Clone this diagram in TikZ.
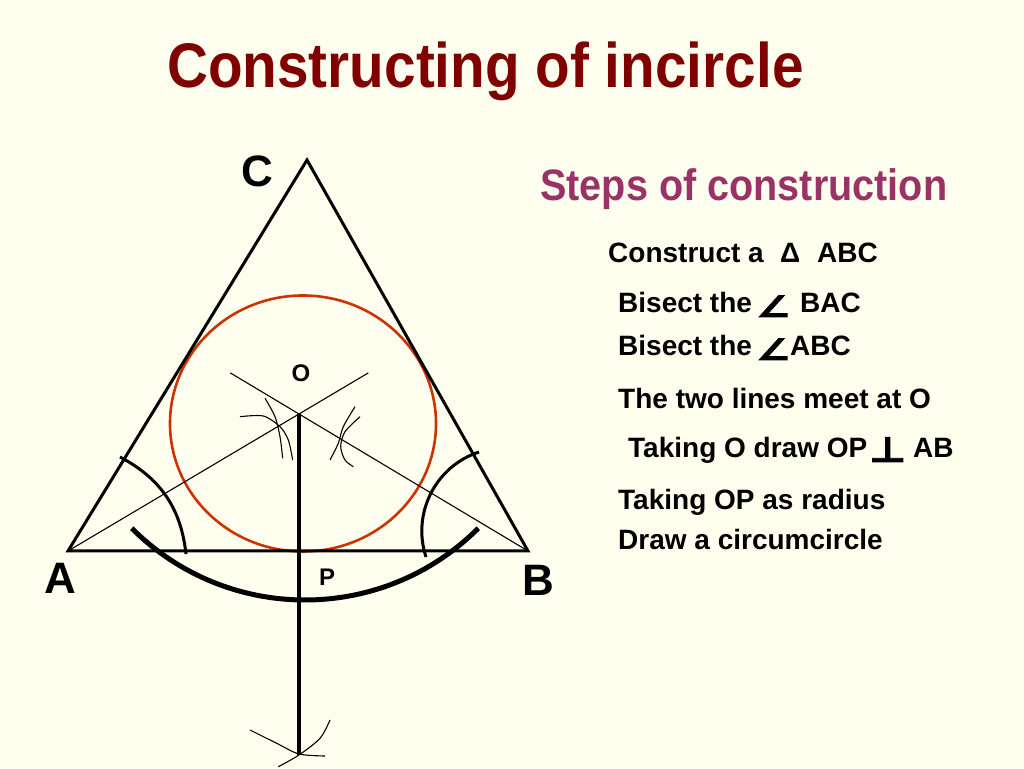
\documentclass[tikz,border=0pt]{standalone}
\usepackage{fontspec}
\setmainfont{Liberation Sans}
\newfontfamily\symfont[FakeBold=2.5]{DejaVu Sans}
\usetikzlibrary{calc}
\definecolor{bg}{RGB}{255,255,240}
\definecolor{titlered}{RGB}{128,0,0}
\definecolor{stepspurple}{RGB}{153,51,102}
\definecolor{circred}{RGB}{204,51,0}
\begin{document}
\begin{tikzpicture}[x=1pt,y=1pt,
  tri/.style={line width=3pt, line join=miter},
  thinline/.style={line width=1.1pt},
  arcmark/.style={line width=3pt},
  bigarc/.style={line width=5pt},
  perp/.style={line width=4.5pt},
  constr/.style={line width=1.1pt},
  txt/.style={anchor=base west, inner sep=0pt, font=\fontsize{28}{34}\selectfont\bfseries},
  biglbl/.style={inner sep=0pt, font=\fontsize{44}{50}\selectfont\bfseries},
  smalllbl/.style={inner sep=0pt, font=\fontsize{24}{28}\selectfont\bfseries},
]
\useasboundingbox (0,0) rectangle (1024,768);
\fill[bg] (0,0) rectangle (1024,768);

% title
\node[anchor=base west, inner sep=0pt, text=titlered, font=\fontsize{63}{70}\selectfont\bfseries] (title) at (167,680) {\scalebox{0.9}[1]{Constructing of incircle}};
\node[anchor=base west, inner sep=0pt, text=stepspurple, font=\fontsize{44}{50}\selectfont\bfseries] (steps) at (540,567) {\scalebox{0.9}[1]{Steps of construction}};

% points
\coordinate (A) at (68,217);
\coordinate (B) at (528,217);
\coordinate (C) at (307,608);
\coordinate (O) at (299,354);
\coordinate (Q) at (299,13);
\coordinate (E1) at ($(A)!1.3!(O)$);
\coordinate (E2) at ($(B)!1.3!(O)$);

% incircle
\draw[circred, line width=2.6pt] (303,344.5) ellipse [x radius=133, y radius=128];

% bisectors
\draw[thinline] (A) -- (E1);
\draw[thinline] (B) -- (E2);

% triangle
\draw[tri] (A) -- (B) -- (C) -- cycle;

% arcs at A and B
\coordinate (a1) at (120,311);
\coordinate (a2) at (186,214);
\draw[arcmark] (a1) to[bend left=28] (a2);
\coordinate (b1) at (479,316);
\coordinate (b2) at (426,211);
\draw[arcmark] (b1) to[bend right=45] (b2);

% big arc below AB
\draw[bigarc] (305,413) ++(225:245) arc[start angle=225, end angle=315, radius=245];

% construction arcs near O
\draw[constr] plot[smooth] coordinates {(240,351.3) (263.3,352) (280,341.3) (288.3,328) (292.7,308)};
\draw[constr] plot[smooth] coordinates {(265,369.7) (275,351.3) (280,331.3) (282.7,309.7)};
\draw[constr] plot[smooth] coordinates {(355,361.3) (343.3,341.3) (338.3,324.7) (330,308)};
\draw[constr] plot[smooth] coordinates {(360,351.3) (345,336.3) (340.7,321.3) (345,308) (353.3,301.3)};

% perpendicular OP
\draw[perp] (O) -- (Q);

% arcs at the bottom
\draw[constr] plot[smooth] coordinates {(250,38) (276.7,24.7) (299,14) (325,12)};
\draw[constr] plot[smooth] coordinates {(330,48) (320,29.7) (299,13) (278.3,1.3)};

% labels
\node[biglbl] (labC) at (257,597) {C};
\node[biglbl] (labA) at (60,190) {A};
\node[biglbl] (labB) at (538,188) {B};
\node[smalllbl] (labO) at (301,395) {O};
\node[smalllbl] (labP) at (327,191) {P};

% steps
\node[txt] (s1a) at (608,505) {Construct a};
\node[txt] (s1b) at (780,505) {Δ};
\node[txt] (s1c) at (817,505) {ABC};
\node[txt] (s2a) at (618,455) {Bisect the};
\node[txt] (s2b) at (756,451) {\symfont\scalebox{1.35}[1.05]{∠}};
\node[txt] (s2c) at (800,455) {BAC};
\node[txt] (s3a) at (618,412) {Bisect the};
\node[txt] (s3b) at (756,408) {\symfont\scalebox{1.35}[1.05]{∠}};
\node[txt] (s3c) at (790,412) {ABC};
\node[txt] (s4) at (618,359) {The two lines meet at O};
\node[txt] (s5a) at (628,310) {Taking O draw OP};
\node[txt] (s5b) at (869,306) {\symfont\scalebox{1.45}[1.25]{⊥}};
\node[txt] (s5c) at (913,310) {AB};
\node[txt] (s6) at (618,258) {Taking OP as radius};
\node[txt] (s7) at (618,218) {Draw a circumcircle};
\end{tikzpicture}
\end{document}
